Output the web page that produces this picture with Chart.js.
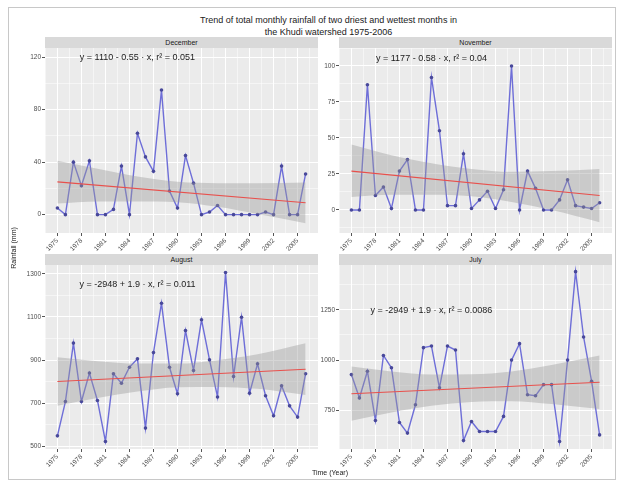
<!DOCTYPE html>
<html>
<head>
<meta charset="utf-8">
<script src="https://cdn.jsdelivr.net/npm/chart.js@4.4.1/dist/chart.umd.min.js"></script>
<style>
    html, body { margin: 0; padding: 0; background: #fff; }
    body { width: 617px; height: 482px; position: relative; overflow: hidden;
           font-family: "Liberation Sans", Arial, sans-serif; color: #1a1a1a; }
    .frame { position: absolute; left: 8px; top: 7px; width: 608px; height: 473px;
             border: 1px solid #c8c8c8; box-sizing: border-box; }
    .title { position: absolute; left: 45px; width: 567px; top: 14px; text-align: center;
             font-size: 9px; line-height: 12px; }
    .strip { position: absolute; height: 11px; background: #d9d9d9; font-size: 7px;
             line-height: 11px; text-align: center; }
    canvas { position: absolute; }
    .ytitle { position: absolute; left: -26px; top: 244px; width: 80px; text-align: center;
              font-size: 7px; line-height: 8px; transform: rotate(-90deg); }
    .xtitle { position: absolute; left: 280px; width: 100px; top: 469px; text-align: center;
              font-size: 7px; line-height: 8px; }
</style>
</head>
<body>
<div class="frame"></div>
<div class="title">Trend of total monthly rainfall of two driest and wettest months in<br>the Khudi watershed 1975-2006</div>

<div class="strip" style="left:45px; top:37px; width:273px;">December</div>
<div class="strip" style="left:339px; top:37px; width:273px;">November</div>
<div class="strip" style="left:45px; top:254px; width:273px;">August</div>
<div class="strip" style="left:339px; top:254px; width:273px;">July</div>

<canvas id="decemberChart" width="314" height="220" style="left:8px; top:38px;"></canvas>
<canvas id="novemberChart" width="298" height="220" style="left:318px; top:38px;"></canvas>
<canvas id="augustChart" width="314" height="217" style="left:8px; top:255px;"></canvas>
<canvas id="julyChart" width="298" height="217" style="left:318px; top:255px;"></canvas>

<div class="ytitle">Rainfall (mm)</div>
<div class="xtitle">Time (Year)</div>

<script>
// ========================================
// DATA
// ========================================
const years = [1975, 1976, 1977, 1978, 1979, 1980, 1981, 1982, 1983, 1984, 1985, 1986, 1987, 1988, 1989, 1990,
               1991, 1992, 1993, 1994, 1995, 1996, 1997, 1998, 1999, 2000, 2001, 2002, 2003, 2004, 2005, 2006];
const xTickYears = [1975, 1978, 1981, 1984, 1987, 1990, 1993, 1996, 1999, 2002, 2005];

const decemberRain = [5, 0, 40, 22, 41, 0, 0, 4, 37, 0, 62, 44, 33, 95, 18, 5,
                      45, 24, 0, 2, 7, 0, 0, 0, 0, 0, 2, 0, 37, 0, 0, 31];
const novemberRain = [0, 0, 87, 10, 16, 1, 27, 35, 0, 0, 92, 55, 3, 3, 39, 1,
                      7, 13, 1, 14, 100, 0, 27, 15, 0, 0, 7, 21, 3, 2, 1, 5];
const augustRain = [549, 708, 979, 708, 840, 713, 523, 837, 793, 867, 906, 585, 935, 1164, 867, 744,
                    1037, 852, 1087, 901, 729, 1306, 824, 1099, 747, 883, 735, 642, 781, 688, 636, 837];
const julyRain = [928, 812, 945, 700, 1023, 962, 690, 637, 778, 1062, 1070, 862, 1070, 1050, 600, 695,
                  645, 645, 645, 720, 1000, 1082, 828, 823, 878, 878, 595, 1000, 1440, 1115, 895, 628];

// fitted trend line ends
const trendYears = [1975, 2006];
const decemberTrend = [25, 9];
const novemberTrend = [27, 10];
const augustTrend = [801, 858];
const julyTrend = [833, 890];

// confidence band edges
const bandYears = [1975, 1980, 1985, 1990, 1995, 2000, 2006];
const decemberUpper = [41, 35, 29, 25, 24, 24, 24.5];
const decemberLower = [8.5, 10, 10, 9.5, 6, 0.5, -6.5];
const novemberUpper = [45.5, 38, 32.5, 28.5, 26.5, 27, 28.5];
const novemberLower = [9, 10.5, 10.5, 9.5, 5.5, 0, -8.5];
const augustUpper = [913, 895, 884, 884, 900, 927, 978];
const augustLower = [689, 725, 754, 774, 776, 767, 738];
const julyUpper = [968, 944, 929, 930, 944, 976, 1023];
const julyLower = [698, 740, 773, 792, 796, 782, 757];

// y axis tick labels
const decemberTicks = [0, 40, 80, 120];
const novemberTicks = [0, 25, 50, 75, 100];
const augustTicks = [500, 700, 900, 1100, 1300];
const julyTicks = [750, 1000, 1250];

const decemberText = 'y = 1110 - 0.55 \u00b7 x, r\u00b2 = 0.051';
const novemberText = 'y = 1177 - 0.58 \u00b7 x, r\u00b2 = 0.04';
const augustText = 'y = -2948 + 1.9 \u00b7 x, r\u00b2 = 0.011';
const julyText = 'y = -2949 + 1.9 \u00b7 x, r\u00b2 = 0.0086';

// ========================================
// HELPERS
// ========================================
const FONT = '"Liberation Sans", Arial, sans-serif';

function pairs(xs, ys) {
    return xs.map(function (x, i) { return { x: x, y: ys[i] }; });
}

// major ticks plus ggplot style minor lines halfway between them
function withMinor(major, lo, hi) {
    const out = [];
    const step = major[1] - major[0];
    for (let v = major[0] - step / 2; v <= hi; v += step / 2) {
        if (v >= lo) out.push(v);
    }
    return out;
}

const panelBackground = {
    id: 'panelBackground',
    beforeDraw(chart) {
        const a = chart.chartArea;
        chart.ctx.save();
        chart.ctx.fillStyle = '#ebebeb';
        chart.ctx.fillRect(a.left, a.top, a.right - a.left, a.bottom - a.top);
        chart.ctx.restore();
    }
};

const equationLabel = {
    id: 'equationLabel',
    afterDatasetsDraw(chart, args, opts) {
        const ctx = chart.ctx;
        ctx.save();
        ctx.font = '9px ' + FONT;
        ctx.fillStyle = '#1a1a1a';
        ctx.textAlign = 'center';
        ctx.textBaseline = 'middle';
        ctx.fillText(opts.text, chart.scales.x.getPixelForValue(opts.year), chart.scales.y.getPixelForValue(opts.value));
        ctx.restore();
    }
};

// ========================================
// PANELS
// ========================================
function buildPanel(id, p) {
    const xMin = 1973.45, xMax = 2007.55;
    const xGrid = withMinor(xTickYears, xMin, xMax);
    const yGrid = withMinor(p.ticks, p.min, p.max);
    const isMajorX = function (v) { return xTickYears.indexOf(v) >= 0; };
    const isMajorY = function (v) { return p.ticks.indexOf(v) >= 0; };

    new Chart(document.getElementById(id), {
        type: 'line',
        data: {
            datasets: [
                { data: pairs(trendYears, p.trend), borderColor: '#e8504c', borderWidth: 1.1,
                  pointRadius: 0, order: 0 },
                { data: pairs(bandYears, p.upper), borderColor: 'transparent', pointRadius: 0,
                  fill: '+1', backgroundColor: 'rgba(153,153,153,0.4)', cubicInterpolationMode: 'monotone', order: 1 },
                { data: pairs(bandYears, p.lower), borderColor: 'transparent', pointRadius: 0,
                  fill: false, cubicInterpolationMode: 'monotone', order: 2 },
                { data: pairs(years, p.values), borderColor: '#6e6ed8', borderWidth: 1.4,
                  pointRadius: 1.8, pointBackgroundColor: '#48489a', pointBorderWidth: 0, order: 3 }
            ]
        },
        options: {
            responsive: false,
            animation: false,
            layout: { padding: { top: 10, right: 4, left: 0, bottom: 0 } },
            plugins: {
                legend: { display: false },
                tooltip: { enabled: false },
                equationLabel: { text: p.text, year: 1985, value: p.textY }
            },
            scales: {
                x: {
                    type: 'linear', min: xMin, max: xMax,
                    afterBuildTicks: function (s) { s.ticks = xGrid.map(function (v) { return { value: v }; }); },
                    afterFit: function (s) { s.height = p.xAxisH; },
                    border: { display: false },
                    grid: {
                        color: '#ffffff',
                        lineWidth: function (c) { return isMajorX(c.tick.value) ? 1 : 0.5; },
                        tickLength: 3,
                        tickColor: function (c) { return isMajorX(c.tick.value) ? '#555555' : 'transparent'; }
                    },
                    ticks: {
                        autoSkip: false, minRotation: 45, maxRotation: 45, padding: 1,
                        color: '#4d4d4d', font: { size: 6.5, family: FONT },
                        callback: function (v) { return isMajorX(v) ? String(v) : ''; }
                    }
                },
                y: {
                    min: p.min, max: p.max,
                    afterBuildTicks: function (s) { s.ticks = yGrid.map(function (v) { return { value: v }; }); },
                    afterFit: function (s) { s.width = p.yAxisW; },
                    border: { display: false },
                    grid: {
                        color: '#ffffff',
                        lineWidth: function (c) { return isMajorY(c.tick.value) ? 1 : 0.5; },
                        tickLength: 3,
                        tickColor: function (c) { return isMajorY(c.tick.value) ? '#555555' : 'transparent'; }
                    },
                    ticks: {
                        padding: 1, color: '#4d4d4d', font: { size: 6.5, family: FONT },
                        callback: function (v) { return isMajorY(v) ? String(v) : ''; }
                    }
                }
            }
        },
        plugins: [panelBackground, equationLabel]
    });
}

document.addEventListener('DOMContentLoaded', function () {
    buildPanel('decemberChart', {
        values: decemberRain, trend: decemberTrend, upper: decemberUpper, lower: decemberLower,
        ticks: decemberTicks, min: -14, max: 127, text: decemberText, textY: 120,
        yAxisW: 37, xAxisH: 25
    });
    buildPanel('novemberChart', {
        values: novemberRain, trend: novemberTrend, upper: novemberUpper, lower: novemberLower,
        ticks: novemberTicks, min: -16, max: 112.5, text: novemberText, textY: 105,
        yAxisW: 21, xAxisH: 25
    });
    buildPanel('augustChart', {
        values: augustRain, trend: augustTrend, upper: augustUpper, lower: augustLower,
        ticks: augustTicks, min: 488, max: 1341, text: augustText, textY: 1249,
        yAxisW: 37, xAxisH: 23
    });
    buildPanel('julyChart', {
        values: julyRain, trend: julyTrend, upper: julyUpper, lower: julyLower,
        ticks: julyTicks, min: 558, max: 1473, text: julyText, textY: 1245,
        yAxisW: 21, xAxisH: 23
    });
});
</script>
</body>
</html>
